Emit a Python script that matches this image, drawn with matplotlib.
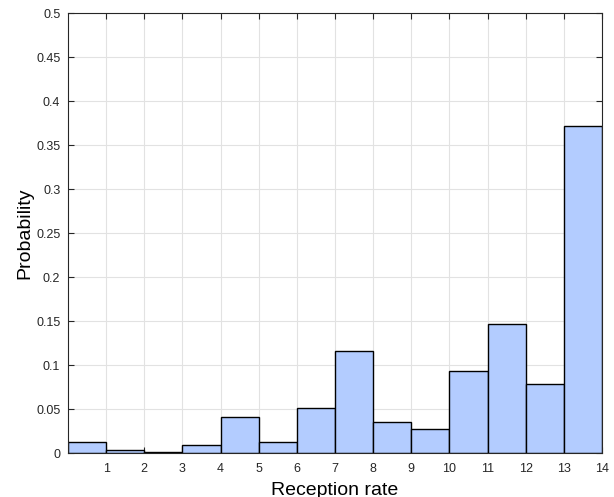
import matplotlib
matplotlib.use("Agg")
import matplotlib.pyplot as plt
import numpy as np

# Histogram of reception rates (normalised to probability)
bin_edges = list(range(0, 15))
probabilities = [0.0128, 0.0034, 0.0006, 0.0090, 0.0405, 0.0128, 0.0515,
                 0.1160, 0.0356, 0.0270, 0.0935, 0.1470, 0.0784, 0.3716]
x_ticks = list(range(1, 15))
y_ticks = [0, 0.05, 0.1, 0.15, 0.2, 0.25, 0.3, 0.35, 0.4, 0.45, 0.5]
y_tick_labels = ["0", "0.05", "0.1", "0.15", "0.2", "0.25", "0.3", "0.35", "0.4", "0.45", "0.5"]

plt.rcParams["font.family"] = ["Liberation Sans", "DejaVu Sans"]

fig = plt.figure(figsize=(6.14, 4.97), dpi=100)
ax = fig.add_axes([68 / 614, 44 / 497, 534 / 614, 440 / 497])

ax.hist(bin_edges[:-1], bins=bin_edges, weights=probabilities,
        color="#b3ccff", edgecolor="black", linewidth=1.0, zorder=2)

ax.set_xlim(0, 14)
ax.set_ylim(0, 0.5)
ax.set_xticks(x_ticks)
ax.set_yticks(y_ticks)
ax.set_yticklabels(y_tick_labels)

ax.grid(True, color="#e2e2e2", linewidth=0.8, zorder=0)
ax.set_axisbelow(True)

ax.tick_params(direction="in", length=4, width=0.8, top=True, right=True,
               labelsize=9, colors="#262626", labelcolor="#262626")
ax.tick_params(axis="x", pad=7)
ax.tick_params(axis="y", pad=5.5)
for s in ax.spines.values():
    s.set_color("#262626")
    s.set_linewidth(0.8)

ax.set_xlabel("Reception rate", fontsize=14, labelpad=5)
ax.set_ylabel("Probability", fontsize=14, labelpad=2)

fig.savefig("out.png", dpi=100)
